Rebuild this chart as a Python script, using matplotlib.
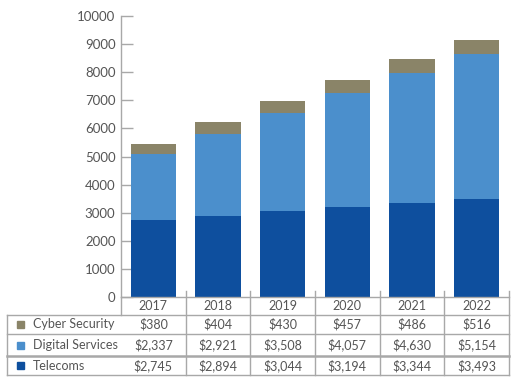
import matplotlib
matplotlib.use("Agg")
import matplotlib.pyplot as plt
from matplotlib.transforms import blended_transform_factory
from matplotlib.patches import Rectangle
from matplotlib.lines import Line2D

years = ["2017", "2018", "2019", "2020", "2021", "2022"]
telecoms = [2745, 2894, 3044, 3194, 3344, 3493]
digital = [2337, 2921, 3508, 4057, 4630, 5154]
cyber = [380, 404, 430, 457, 486, 516]
series_names = ["Cyber Security", "Digital Services", "Telecoms"]
series_labels = [
    ["$380", "$404", "$430", "$457", "$486", "$516"],
    ["$2,337", "$2,921", "$3,508", "$4,057", "$4,630", "$5,154"],
    ["$2,745", "$2,894", "$3,044", "$3,194", "$3,344", "$3,493"],
]
yticks = [0, 1000, 2000, 3000, 4000, 5000, 6000, 7000, 8000, 9000, 10000]

c_tel = "#0E4F9E"
c_dig = "#4B8FCC"
c_cyb = "#8A8468"
txt = "#555555"
grid = "#A8A8A8"

plt.rcParams["font.family"] = ["Lato", "DejaVu Sans"]

fig = plt.figure(figsize=(5.21, 3.87), dpi=100)
ax = fig.add_axes([121 / 521, 1 - 297 / 387, 388 / 521, 281 / 387])

x = list(range(len(years)))
w = 0.7
ax.bar(x, telecoms, w, color=c_tel, zorder=2)
ax.bar(x, digital, w, bottom=telecoms, color=c_dig, zorder=2)
tot2 = [a + b for a, b in zip(telecoms, digital)]
ax.bar(x, cyber, w, bottom=tot2, color=c_cyb, zorder=2)

ax.set_xlim(-0.5, 5.5)
ax.set_ylim(0, 10000)
ax.set_yticks(yticks)
ax.set_yticklabels([str(v) for v in yticks], fontsize=9.5, color=txt)
ax.tick_params(axis="y", direction="in", length=8.5, width=1, color=grid, pad=4)
ax.set_xticks([])
for s in ["top", "right", "bottom"]:
    ax.spines[s].set_visible(False)
ax.spines["left"].set_color(grid)
ax.spines["left"].set_linewidth(1)

tr = blended_transform_factory(ax.transData, ax.transAxes)

def ay(py):
    return -(py - 297) / 281.0

# axis line at bottom
ax.add_line(Line2D([-0.5, 5.5], [0, 0], transform=tr, color=grid, lw=1, clip_on=False))
# year row
for i, yv in enumerate(years):
    ax.text(i, ay(306), yv, transform=tr, ha="center", va="center", fontsize=9, color=txt, clip_on=False)

# vertical column lines
for b in [0.5, 1.5, 2.5, 3.5, 4.5, 5.5]:
    ax.add_line(Line2D([b, b], [ay(291), ay(375)], transform=tr, color=grid, lw=1, clip_on=False))
ax.add_line(Line2D([-0.5, -0.5], [0, ay(315)], transform=tr, color=grid, lw=1, clip_on=False))

# table horizontal lines in axes fraction x
left_ax = (7 - 121) / 388.0
trA = ax.transAxes
for py, lw in [(315, 1), (334, 1), (356, 1.8), (375, 1)]:
    ax.add_line(Line2D([left_ax, 1], [ay(py), ay(py)], transform=trA, color=grid, lw=lw, clip_on=False))
ax.add_line(Line2D([left_ax, left_ax], [ay(315), ay(375)], transform=trA, color=grid, lw=1, clip_on=False))

row_centers = [324.5, 345, 365.5]
colors = [c_cyb, c_dig, c_tel]
for r, (name, col, cy) in enumerate(zip(series_names, colors, row_centers)):
    sq = 7 / 388.0
    ax.add_patch(Rectangle(((17 - 121) / 388.0, ay(cy + 3.5)), sq, 7 / 281.0, transform=trA,
                           color=col, clip_on=False))
    ax.text((33 - 121) / 388.0, ay(cy), name, transform=trA, ha="left", va="center",
            fontsize=9, color=txt, clip_on=False)
    for i, lab in enumerate(series_labels[r]):
        ax.text(i, ay(cy), lab, transform=tr, ha="center", va="center", fontsize=9,
                color=txt, clip_on=False)

fig.savefig("out.png", dpi=100)
